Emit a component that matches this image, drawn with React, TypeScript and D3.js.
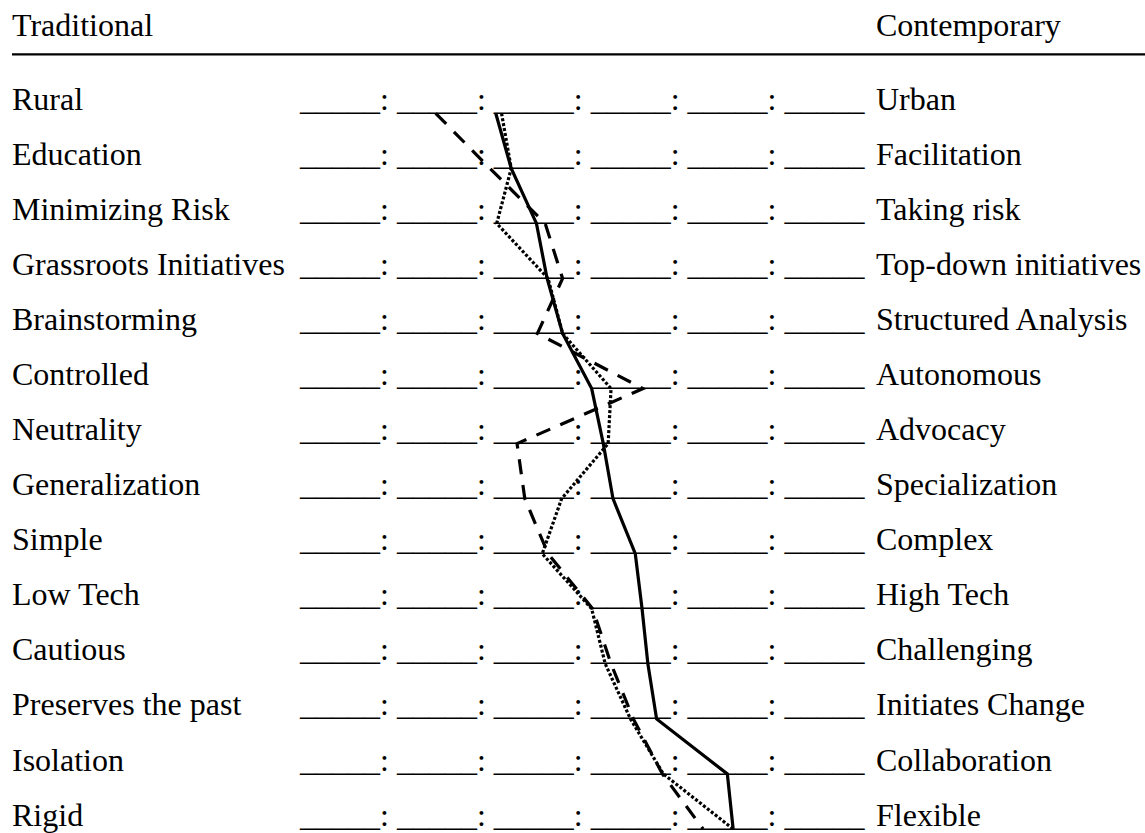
import React from "react";
import * as d3 from "d3";

const leftLabels = [
  "Rural",
  "Education",
  "Minimizing Risk",
  "Grassroots Initiatives",
  "Brainstorming",
  "Controlled",
  "Neutrality",
  "Generalization",
  "Simple",
  "Low Tech",
  "Cautious",
  "Preserves the past",
  "Isolation",
  "Rigid",
];

const rightLabels = [
  "Urban",
  "Facilitation",
  "Taking risk",
  "Top-down initiatives",
  "Structured Analysis",
  "Autonomous",
  "Advocacy",
  "Specialization",
  "Complex",
  "High Tech",
  "Challenging",
  "Initiates Change",
  "Collaboration",
  "Flexible",
];

const headerLeft = "Traditional";
const headerRight = "Contemporary";
const scaleText = "_____: _____: _____: _____: _____: _____";

// positions along the 6-segment scale (0 = left end, 6 = right end)
const solidSeries = [2.02, 2.18, 2.44, 2.55, 2.71, 3.01, 3.13, 3.23, 3.46, 3.53, 3.59, 3.68, 4.41, 4.47];
const dashedSeries = [1.4, 1.96, 2.53, 2.71, 2.45, 3.54, 2.24, 2.32, 2.56, 3.02, 3.21, 3.44, 3.74, 4.16];
const dottedSeries = [2.08, 2.18, 2.03, 2.56, 2.71, 3.21, 3.18, 2.7, 2.5, 3.01, 3.15, 3.41, 3.75, 4.47];

const W = 1145;
const H = 833;
const FONT = "'Liberation Serif', 'Times New Roman', serif";
const FS = 32;

export default function App() {
  const x = d3.scaleLinear().domain([0, 6]).range([300, 881.4]);
  const y = d3.scaleLinear().domain([0, 13]).range([113.3, 829]);
  const baseOffset = -3.4;

  const line = d3
    .line<number>()
    .x((d) => x(d))
    .y((_, i) => y(i));

  const series = [
    { data: solidSeries, dash: undefined, width: 3.2 },
    { data: dashedSeries, dash: "15 11", width: 3.2 },
    { data: dottedSeries, dash: "3 2", width: 3.2 },
  ];

  return (
    <svg
      width={W}
      height={H}
      style={{ position: "absolute", left: 0, top: 0, background: "#fff" }}
    >
      <rect x={0} y={0} width={W} height={H} fill="#fff" />
      <g fontFamily={FONT} fontSize={FS} fill="#000">
        <text x={12} y={36}>{headerLeft}</text>
        <text x={876} y={36}>{headerRight}</text>
        {leftLabels.map((l, i) => (
          <text key={"l" + i} x={12} y={y(i) + baseOffset}>
            {l}
          </text>
        ))}
        {leftLabels.map((_, i) => (
          <text key={"s" + i} x={300} y={y(i) + baseOffset}>
            {scaleText}
          </text>
        ))}
        {rightLabels.map((l, i) => (
          <text key={"r" + i} x={876} y={y(i) + baseOffset}>
            {l}
          </text>
        ))}
      </g>
      <line x1={12} x2={W} y1={54.3} y2={54.3} stroke="#000" strokeWidth={2.2} />
      {series.map((s, k) => (
        <path
          key={k}
          d={line(s.data) || ""}
          fill="none"
          stroke="#000"
          strokeWidth={s.width}
          strokeDasharray={s.dash}
          strokeLinejoin="miter"
        />
      ))}
    </svg>
  );
}
